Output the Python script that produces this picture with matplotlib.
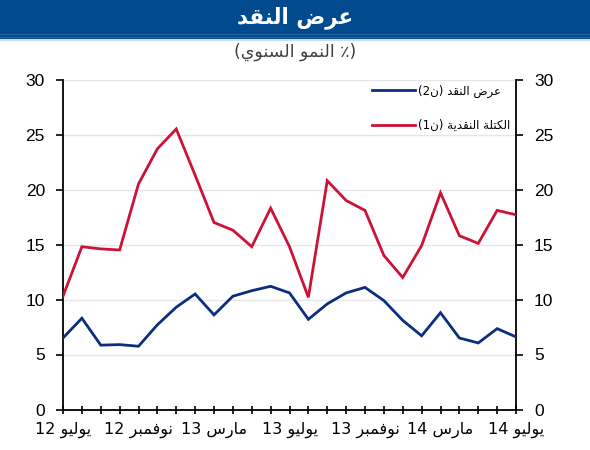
import matplotlib
matplotlib.use("Agg")
import matplotlib.pyplot as plt
import numpy as np
from matplotlib.patches import Rectangle
from matplotlib.lines import Line2D

# ---------------- data ----------------
months = list(range(25))  # July 2012 .. July 2014, monthly
m1 = [10.3, 14.8, 14.6, 14.5, 20.5, 23.7, 25.5, 21.3, 17.0, 16.3, 14.8, 18.3, 14.8,
      10.2, 20.8, 19.0, 18.1, 14.0, 12.0, 14.9, 19.7, 15.8, 15.1, 18.1, 17.7]
m2 = [6.5, 8.3, 5.85, 5.9, 5.75, 7.7, 9.3, 10.5, 8.6, 10.3, 10.8, 11.2, 10.6,
      8.2, 9.6, 10.6, 11.1, 9.9, 8.1, 6.7, 8.8, 6.5, 6.05, 7.35, 6.6]
tick_months = [0, 4, 8, 12, 16, 20, 24]
tick_month_names = ["يوليو", "نوفمبر", "مارس", "يوليو", "نوفمبر", "مارس", "يوليو"]
tick_years = ["12", "12", "13", "13", "13", "14", "14"]
yticks = [0, 5, 10, 15, 20, 25, 30]
title = "عرض النقد"
subtitle = "النمو السنوي"
label_m2_word = "عرض النقد"
label_m1_word = "الكتلة النقدية"

# ---------------- minimal Arabic shaping (visual order) ----------------
FORMS = {
    '\u0627': ('\uFE8D', '\uFE8E', None, None),
    '\u0628': ('\uFE8F', '\uFE90', '\uFE91', '\uFE92'),
    '\u0629': ('\uFE93', '\uFE94', None, None),
    '\u062A': ('\uFE95', '\uFE96', '\uFE97', '\uFE98'),
    '\u062F': ('\uFEA9', '\uFEAA', None, None),
    '\u0631': ('\uFEAD', '\uFEAE', None, None),
    '\u0633': ('\uFEB1', '\uFEB2', '\uFEB3', '\uFEB4'),
    '\u0636': ('\uFEBD', '\uFEBE', '\uFEBF', '\uFEC0'),
    '\u0639': ('\uFEC9', '\uFECA', '\uFECB', '\uFECC'),
    '\u0641': ('\uFED1', '\uFED2', '\uFED3', '\uFED4'),
    '\u0642': ('\uFED5', '\uFED6', '\uFED7', '\uFED8'),
    '\u0643': ('\uFED9', '\uFEDA', '\uFEDB', '\uFEDC'),
    '\u0644': ('\uFEDD', '\uFEDE', '\uFEDF', '\uFEE0'),
    '\u0645': ('\uFEE1', '\uFEE2', '\uFEE3', '\uFEE4'),
    '\u0646': ('\uFEE5', '\uFEE6', '\uFEE7', '\uFEE8'),
    '\u0648': ('\uFEED', '\uFEEE', None, None),
    '\u064A': ('\uFEF1', '\uFEF2', '\uFEF3', '\uFEF4'),
}


def dual(c):
    return c in FORMS and FORMS[c][2] is not None


def ar(s):
    out = []
    for i, c in enumerate(s):
        if c not in FORMS:
            out.append(c)
            continue
        prev = s[i - 1] if i > 0 else ''
        nxt = s[i + 1] if i + 1 < len(s) else ''
        cp = dual(prev)
        cn = dual(c) and nxt in FORMS
        iso, fin, ini, med = FORMS[c]
        if cp and cn:
            out.append(med)
        elif cp:
            out.append(fin)
        elif cn:
            out.append(ini)
        else:
            out.append(iso)
    return ''.join(reversed(out))


FAM = ['Liberation Sans', 'DejaVu Sans']
plt.rcParams['font.family'] = FAM

# ---------------- figure ----------------
W, H = 590, 450
fig = plt.figure(figsize=(W / 100, H / 100), dpi=100)

# banner
fig.patches.append(Rectangle((0, 1 - 38 / H), 1, 38 / H, transform=fig.transFigure,
                             color='#004A8D', zorder=0))
for yy, col in [(34, '#2C5F98'), (36.5, '#2C5F98')]:
    fig.add_artist(Line2D([0, 1], [1 - yy / H] * 2, transform=fig.transFigure,
                          color=col, lw=0.8))
fig.add_artist(Line2D([0, 1], [1 - 39.5 / H] * 2, transform=fig.transFigure,
                      color='#C9DEF2', lw=1.5))
fig.text(0.5, 1 - 18 / H, ar(title), color='white', fontsize=15.5, fontweight='bold',
         ha='center', va='center', family=['DejaVu Sans'])
fig.text(0.5, 1 - 52 / H, "(" + ar(subtitle) + " ٪)", color='#404040', fontsize=12.5,
         ha='center', va='center', family=['DejaVu Sans'])

L, R, B, T = 63, 516, 409.5, 79.5
ax = fig.add_axes([L / W, 1 - B / H, (R - L) / W, (B - T) / H])

ax.plot(months, m2, color='#0B2E80', lw=2.0, label="(2" + ar("ن") + ") " + ar(label_m2_word),
        solid_joinstyle='miter', zorder=3)
ax.plot(months, m1, color='#CC1236', lw=2.0, label="(1" + ar("ن") + ") " + ar(label_m1_word),
        solid_joinstyle='miter', zorder=3)

ax.set_xlim(0, 24)
ax.set_ylim(0, 30)
ax.set_yticks(yticks)
ax.set_yticklabels([str(v) for v in yticks])
for v in yticks[1:]:
    ax.axhline(v, color='#E6E6E6', lw=1.0, zorder=1)

ax.set_xticks(months, minor=True)
ax.set_xticks(tick_months)
ax.set_xticklabels([y + " " + ar(n) for n, y in zip(tick_month_names, tick_years)],
                   family=['DejaVu Sans'], fontsize=11.5)

ax.spines['top'].set_visible(False)
for s in ['left', 'right', 'bottom']:
    ax.spines[s].set_linewidth(1.3)
    ax.spines[s].set_color('black')

ax.tick_params(axis='y', which='both', direction='out', length=5, width=1.2,
               left=True, right=True, labelleft=True, labelright=True,
               labelsize=12.5, pad=8)
ax.tick_params(axis='x', which='both', direction='inout', length=6, width=1.2,
               bottom=True, top=False, pad=6)

leg = ax.legend(loc='upper right', bbox_to_anchor=(0.988, 0.985), frameon=False,
                handlelength=3.6, labelspacing=1.8, handletextpad=0.3,
                borderaxespad=0, borderpad=0,
                prop={'family': ['DejaVu Sans'], 'size': 8.5})

fig.savefig('out.png', dpi=100)
